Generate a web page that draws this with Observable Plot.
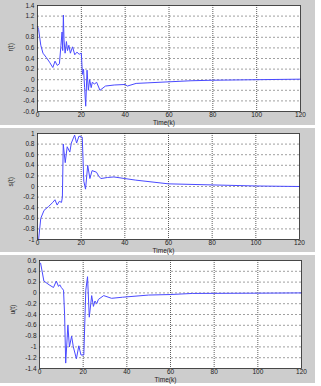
<!DOCTYPE html>
<html>
<head>
<meta charset="utf-8">
<script src="https://cdn.jsdelivr.net/npm/d3@7"></script>
<script src="https://cdn.jsdelivr.net/npm/@observablehq/plot@0.6"></script>
<style>
  body { margin: 0; background: #ffffff; }
  #wrap { position: relative; width: 321px; height: 386px; }
  .panel { position: absolute; left: 0; width: 315px; background: #cdcdcd; }
  .panel svg { display: block; background: transparent; overflow: visible; }
</style>
</head>
<body>
<div id="wrap"></div>
<script>
const xTicks = [0, 20, 40, 60, 80, 100, 120];

const kR = [0, 0.5, 1.5, 2.5, 4, 5.5, 7, 8, 9, 10, 10.7, 11.2, 11.5, 11.8, 12.1, 12.6, 13.2, 13.7, 14.3, 15, 16, 17, 18, 19, 20, 20.5, 21, 21.5, 22, 22.6, 23.2, 23.8, 24.5, 25, 26, 27, 28.5, 31, 35, 40, 41, 45, 50, 60, 70, 80, 100, 120];
const rVals = [1.0, 0.95, 0.65, 0.5, 0.42, 0.33, 0.23, 0.35, 0.27, 0.3, 0.65, 0.9, 0.55, 1.22, 0.75, 0.5, 0.72, 0.55, 0.65, 0.5, 0.62, 0.47, 0.52, 0.48, 0.5, 0.1, 0.2, -0.15, -0.5, 0.18, -0.2, 0.0, -0.15, -0.05, -0.08, -0.05, -0.2, -0.12, -0.1, -0.09, -0.12, -0.07, -0.06, -0.04, -0.02, -0.01, 0, 0.01];
const rTicks = [-0.6, -0.4, -0.2, 0, 0.2, 0.4, 0.6, 0.8, 1, 1.2, 1.4];

const kS = [0.5, 1, 1.5, 3, 5, 7, 8, 9, 10, 11, 11.4, 11.8, 12.7, 13.6, 14.8, 15.5, 17, 17.9, 19, 20.5, 21.2, 22, 23, 24, 25, 27, 28, 29, 32, 35, 40, 45, 60, 80, 100, 120];
const sVals = [-1.0, -0.8, -0.6, -0.45, -0.38, -0.3, -0.25, -0.35, -0.28, -0.3, -0.2, 0.8, 0.45, 0.75, 0.65, 0.82, 0.97, 0.82, 0.95, 0.93, 0.1, -0.05, 0.4, 0.15, 0.3, 0.27, 0.2, 0.15, 0.17, 0.18, 0.15, 0.12, 0.05, 0.03, 0.01, 0];
const sTicks = [-1, -0.8, -0.6, -0.4, -0.2, 0, 0.2, 0.4, 0.6, 0.8, 1];

const kU = [0.5, 1.2, 2, 4.4, 6.4, 7.7, 8.7, 9.3, 10, 11, 11.5, 12, 13, 13.7, 14.7, 15.5, 16.9, 18, 19, 20.3, 21.2, 22, 22.8, 23.9, 24.7, 25.4, 26.2, 27, 29.4, 33, 38, 41, 50, 60, 70, 100, 120];
const uVals = [0.55, 0.4, 0.22, 0.15, 0.1, 0.22, 0.12, 0.15, 0.1, 0.05, -0.4, -1.3, -0.6, -1.0, -0.8, -1.0, -1.22, -0.98, -1.15, -1.15, 0.05, 0.3, -0.45, -0.05, -0.25, -0.15, -0.2, -0.12, -0.05, -0.1, -0.08, -0.07, -0.04, -0.03, -0.01, -0.005, 0];
const uTicks = [-1.4, -1.2, -1, -0.8, -0.6, -0.4, -0.2, 0, 0.2, 0.4, 0.6];

const panels = [
  {k: kR, v: rVals, ticks: rTicks, label: "r(t)", top: 0, height: 125, mt: 5, mb: 14, ml: 37, mr: 15, ldy: -7},
  {k: kS, v: sVals, ticks: sTicks, label: "s(t)", top: 128, height: 124, mt: 5, mb: 13, ml: 37, mr: 16, ldy: 0},
  {k: kU, v: uVals, ticks: uTicks, label: "u(t)", top: 255, height: 128, mt: 5, mb: 15, ml: 39, mr: 14, ldy: 0}
];

const fmt = d => String(+(+d).toFixed(1));
const font = "Liberation Sans, Arial, sans-serif";

for (const p of panels) {
  const data = p.k.map((k, i) => ({k, v: p.v[i]}));
  const yDom = [p.ticks[0], p.ticks[p.ticks.length - 1]];
  const chart = Plot.plot({
    width: 315,
    height: p.height,
    marginTop: p.mt,
    marginBottom: p.mb,
    marginLeft: p.ml,
    marginRight: p.mr,
    style: {fontFamily: font, fontSize: "6.5px", color: "#222", background: "transparent", overflow: "visible"},
    x: {domain: [0, 120]},
    y: {domain: yDom},
    marks: [
      Plot.frame({fill: "white", stroke: "none"}),
      Plot.gridY(p.ticks.slice(1, -1), {stroke: "#777", strokeOpacity: 1, strokeDasharray: "2,2", strokeWidth: 0.7}),
      Plot.gridX(xTicks.slice(1, -1), {stroke: "#333", strokeOpacity: 1, strokeDasharray: "1,1", strokeWidth: 0.8}),
      Plot.line(data, {x: "k", y: "v", stroke: "#4a4aff", strokeWidth: 1}),
      Plot.frame({stroke: "#222", strokeWidth: 0.8}),
      Plot.axisX({ticks: xTicks, tickSize: 0, tickPadding: 1, tickFormat: fmt, label: null, fontSize: 6.5}),
      Plot.axisY({ticks: p.ticks, tickSize: 0, tickPadding: 3, tickFormat: fmt, label: null, fontSize: 6.5}),
      Plot.text(["Time(k)"], {frameAnchor: "bottom", lineAnchor: "top", dy: 8.5, dx: -5, fontSize: 6.5, fill: "#222"}),
      Plot.text([p.label], {frameAnchor: "left", dx: -27, dy: p.ldy, rotate: -90, fontSize: 6.5, fill: "#222"})
    ]
  });
  const div = document.createElement("div");
  div.className = "panel";
  div.style.top = p.top + "px";
  div.style.height = p.height + "px";
  div.appendChild(chart);
  document.getElementById("wrap").appendChild(div);
}
</script>
</body>
</html>
